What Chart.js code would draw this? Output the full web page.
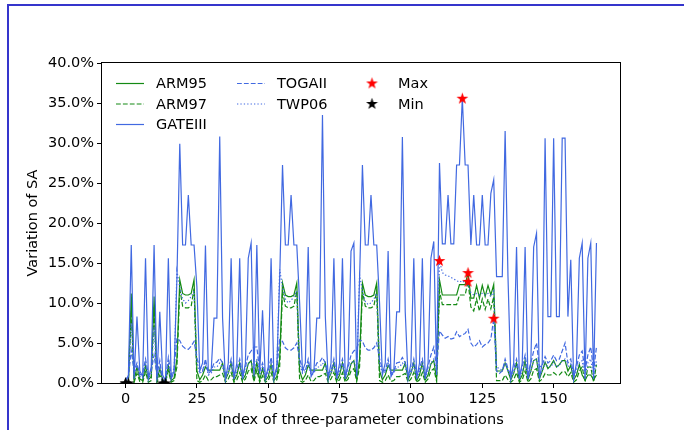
<!DOCTYPE html>
<html>
<head>
<meta charset="utf-8">
<script src="https://cdn.jsdelivr.net/npm/chart.js@4.4.1/dist/chart.umd.min.js"></script>
<style>
  html, body { margin: 0; padding: 0; background: #fff; overflow: hidden; }
  #chart { display: block; }
</style>
</head>
<body>
<canvas id="chart" width="684" height="437"></canvas>
<script>
// Variation of SA (%) for each three-parameter combination, index 0..165
const ARM95 = [
  0.2, 0, 11.2, 0.3, 2.0, 0.5, 0.3, 2.2, 0.4, 0.8,
  10.8, 0.3, 1.8, 0.4, 0.2, 2.2, 0.3, 0.6, 3.0, 12.9,
  11.2, 11.0, 11.0, 11.2, 12.9, 1.5, 0.4, 1.0, 2.0, 1.6,
  1.6, 1.6, 1.6, 1.6, 2.5, 0.4, 1.2, 2.5, 0.3, 1.0,
  2.5, 0.4, 1.0, 2.4, 2.8, 0.5, 2.6, 0.4, 1.8, 0.3,
  0.8, 2.3, 0.3, 0.8, 3.0, 12.5, 11.0, 10.8, 10.8, 11.0,
  12.5, 1.5, 0.4, 1.0, 2.2, 1.6, 1.6, 1.6, 1.6, 1.6,
  2.5, 0.4, 1.2, 2.5, 0.3, 1.0, 2.5, 0.4, 1.0, 2.4,
  2.8, 0.5, 3.0, 12.5, 11.0, 10.8, 10.8, 11.0, 12.5, 1.5,
  0.4, 1.0, 2.2, 1.6, 1.6, 1.6, 1.6, 1.6, 2.5, 0.4,
  1.2, 2.5, 0.3, 1.0, 2.5, 0.4, 1.0, 2.4, 2.8, 0.5,
  12.9, 11.0, 11.0, 11.0, 11.0, 11.0, 11.0, 12.3, 12.3, 12.3,
  13.8, 10.6, 10.6, 12.2, 10.6, 12.2, 10.8, 12.2, 11.0, 12.3,
  1.5, 1.5, 1.5, 2.5, 1.5, 0.4, 1.2, 2.5, 0.3, 1.0,
  2.8, 0.4, 1.5, 2.8, 3.0, 0.5, 1.5, 2.6, 1.8, 2.2,
  2.8, 2.0, 2.3, 2.8, 2.8, 1.5, 2.2, 0.4, 1.0, 2.3,
  1.0, 0.4, 1.0, 1.0, 0.4, 1.0
];
const ARM97 = [
  0, 0.1, 9.0, 0.1, 1.2, 0.2, 0.1, 1.4, 0.1, 0.3,
  9.5, 0.1, 1.0, 0.2, 0.1, 1.5, 0.1, 0.3, 2.0, 11.8,
  9.6, 9.4, 9.4, 9.6, 11.8, 0.3, 0.1, 0.3, 1.0, 0.3,
  0.4, 0.8, 0.8, 1.0, 1.2, 0.1, 0.5, 1.3, 0.1, 0.4,
  1.3, 0.1, 0.5, 1.5, 1.8, 0.2, 1.6, 0.1, 0.9, 0.1,
  0.3, 1.3, 0.1, 0.4, 2.0, 11.5, 9.6, 9.4, 9.4, 9.6,
  11.5, 0.3, 0.1, 0.3, 1.0, 0.2, 0.3, 0.8, 0.8, 1.0,
  1.2, 0.1, 0.5, 1.3, 0.1, 0.4, 1.3, 0.1, 0.5, 1.5,
  1.8, 0.2, 2.0, 11.5, 9.6, 9.4, 9.4, 9.6, 11.5, 0.3,
  0.1, 0.3, 1.0, 0.2, 0.3, 0.8, 0.8, 1.0, 1.2, 0.1,
  0.5, 1.3, 0.1, 0.4, 1.3, 0.1, 0.5, 1.5, 1.8, 0.2,
  11.5, 9.8, 9.8, 9.8, 9.8, 9.8, 9.8, 11.0, 11.0, 11.0,
  12.7, 9.5, 9.0, 10.5, 9.0, 10.5, 9.2, 10.5, 9.3, 10.8,
  0.3, 0.3, 0.3, 1.0, 0.4, 0.1, 0.4, 1.3, 0.1, 0.4,
  1.5, 0.1, 0.5, 1.6, 1.8, 0.2, 0.5, 1.2, 1.0, 1.0,
  1.3, 1.0, 1.0, 1.4, 1.4, 0.8, 1.3, 0.1, 0.4, 1.5,
  2.0, 0.1, 2.0, 2.0, 0.1, 2.3
];
const GATEIII = [
  0, 1.0, 17.25, 0.5, 8.3, 1.5, 0.8, 15.6, 0.5, 2.0,
  17.25, 0.5, 8.9, 1.0, 0.3, 15.6, 0.5, 1.5, 13.0, 29.9,
  17.25, 17.25, 23.5, 17.25, 17.25, 12.0, 1.5, 2.5, 17.2, 1.5,
  1.5, 8.1, 8.1, 30.8, 8.1, 0.4, 2.5, 15.6, 0.5, 2.5,
  15.6, 0.5, 2.5, 15.6, 17.5, 0.8, 17.25, 1.2, 9.1, 0.5,
  2.0, 15.6, 0.5, 2.0, 13.0, 27.25, 17.25, 17.25, 23.5, 17.25,
  17.25, 10.0, 1.5, 2.5, 17.0, 0.8, 1.5, 8.1, 8.1, 33.5,
  8.3, 0.5, 2.5, 15.6, 0.5, 2.5, 15.6, 0.5, 2.5, 16.5,
  17.5, 0.8, 13.0, 27.25, 17.25, 17.25, 23.5, 17.25, 17.25, 10.0,
  1.0, 2.5, 16.5, 0.8, 1.5, 8.9, 8.9, 30.75, 8.9, 0.5,
  2.5, 15.6, 0.5, 2.5, 15.6, 0.5, 2.5, 15.6, 17.7, 1.0,
  27.5, 17.4, 17.4, 23.5, 17.4, 17.4, 27.25, 27.25, 35.6, 27.25,
  27.25, 17.25, 23.5, 17.25, 17.25, 23.5, 17.25, 17.25, 23.7, 25.4,
  13.3, 13.3, 13.3, 31.5, 13.3, 0.5, 2.5, 17.0, 0.5, 2.5,
  17.0, 0.5, 2.5, 17.0, 18.7, 0.5, 2.5, 30.6, 8.3, 8.3,
  30.6, 8.3, 8.3, 30.6, 30.6, 8.3, 15.4, 0.5, 2.5, 15.6,
  17.5, 0.5, 15.6, 17.5, 0.5, 17.5
];
const TOGAII = [
  0.5, 0.8, 4.1, 1.5, 2.5, 1.0, 1.2, 3.0, 1.0, 1.5,
  3.5, 1.0, 2.8, 0, 0.5, 3.2, 1.0, 1.8, 5.6, 5.3,
  4.6, 4.3, 4.2, 4.6, 5.2, 3.1, 2.0, 1.5, 3.0, 1.2,
  1.5, 2.5, 2.6, 3.1, 2.5, 1.2, 1.5, 3.0, 1.0, 1.8,
  3.0, 1.0, 2.0, 3.5, 4.0, 4.5, 4.5, 1.5, 2.5, 1.0,
  1.5, 3.2, 1.0, 1.8, 5.4, 5.2, 4.4, 4.1, 4.1, 4.4,
  5.0, 3.0, 1.8, 1.5, 3.0, 1.2, 1.5, 2.5, 2.6, 3.2,
  2.5, 1.2, 1.5, 3.0, 1.0, 1.8, 3.0, 1.0, 2.0, 3.5,
  4.0, 4.3, 5.4, 5.2, 4.4, 4.1, 4.1, 4.4, 5.0, 3.0,
  1.8, 1.5, 3.0, 1.2, 1.5, 2.5, 2.6, 3.2, 2.5, 1.2,
  1.5, 3.0, 1.0, 1.8, 3.0, 1.0, 2.0, 3.5, 4.5, 2.0,
  6.5, 6.0, 5.6, 5.8, 5.5, 5.6, 6.4, 5.8, 6.0, 6.2,
  6.7, 5.0, 4.5, 4.8, 5.3, 4.5, 4.8, 5.0, 5.5, 8.1,
  1.5, 1.2, 1.5, 3.0, 1.8, 1.0, 1.8, 3.0, 1.0, 2.0,
  3.5, 1.2, 2.5, 4.0, 5.0, 2.0, 2.2, 3.3, 2.5, 2.8,
  3.5, 2.8, 3.0, 4.0, 5.0, 2.5, 3.0, 1.0, 2.0, 3.5,
  4.0, 1.5, 3.5, 4.5, 1.5, 4.5
];
const TWP06 = [
  0.3, 0.5, 7.5, 1.0, 2.2, 0.8, 0.6, 2.5, 0.5, 1.2,
  7.0, 0.5, 2.0, 0.6, 0, 2.5, 0.6, 1.2, 14.0, 12.0,
  10.5, 10.0, 10.3, 10.8, 11.5, 2.5, 1.2, 1.5, 2.5, 1.0,
  1.2, 2.0, 2.0, 2.5, 2.0, 0.8, 1.2, 2.2, 0.6, 1.4,
  2.2, 0.6, 1.5, 2.5, 2.8, 1.5, 3.0, 1.0, 2.0, 0.6,
  1.2, 2.4, 0.7, 1.5, 14.2, 12.0, 10.5, 10.0, 10.3, 10.8,
  11.5, 2.5, 1.2, 1.4, 2.5, 1.0, 1.2, 2.0, 2.0, 2.5,
  2.0, 0.8, 1.2, 2.2, 0.6, 1.4, 2.2, 0.6, 1.5, 2.5,
  2.8, 1.5, 13.5, 11.5, 10.2, 9.8, 10.0, 10.5, 11.2, 2.5,
  1.2, 1.4, 2.5, 1.0, 1.2, 2.0, 2.0, 2.5, 2.0, 0.8,
  1.2, 2.2, 0.6, 1.4, 2.2, 0.6, 1.5, 2.5, 3.0, 1.5,
  15.3, 13.8, 13.5, 13.4, 13.2, 13.0, 12.8, 12.6, 12.8, 12.5,
  12.3, 11.3, 11.0, 11.2, 11.0, 11.2, 11.0, 11.2, 10.8, 11.5,
  2.0, 1.8, 1.6, 2.5, 1.5, 0.6, 1.4, 2.2, 0.6, 1.5,
  2.4, 0.7, 1.5, 2.8, 3.0, 1.0, 1.5, 2.5, 2.0, 2.0,
  2.6, 2.0, 2.2, 2.8, 3.0, 2.0, 2.4, 0.6, 1.5, 2.5,
  2.8, 0.8, 2.5, 3.0, 0.8, 2.8
];
const xTicks = [0, 25, 50, 75, 100, 125, 150];
const yTicks = [0, 5, 10, 15, 20, 25, 30, 35, 40];

const GREEN = '#148a14';
const BLUE = '#4169e1';
const FONT = '"DejaVu Sans", sans-serif';
Chart.defaults.font.family = FONT;
Chart.defaults.font.size = 14.5;
Chart.defaults.color = '#000';

const series = [
  { label: 'ARM95', data: ARM95, color: GREEN, dash: [] },
  { label: 'ARM97', data: ARM97, color: GREEN, dash: [4.8, 2.1] },
  { label: 'GATEIII', data: GATEIII, color: BLUE, dash: [] },
  { label: 'TOGAII', data: TOGAII, color: BLUE, dash: [4.8, 2.1] },
  { label: 'TWP06', data: TWP06, color: BLUE, dash: [1.3, 2.1] },
];

// filled five-point star used as marker image
function starImage(color) {
  const c = document.createElement('canvas');
  c.width = 13; c.height = 13;
  const g = c.getContext('2d');
  g.beginPath();
  for (let k = 0; k < 10; k++) {
    const r = k % 2 ? 2.4 : 6.2;
    const a = -Math.PI / 2 + k * Math.PI / 5;
    g.lineTo(6.5 + r * Math.cos(a), 7 + r * Math.sin(a));
  }
  g.closePath();
  g.fillStyle = color;
  g.fill();
  return c;
}
const redStar = starImage('#ff0000');
const blackStar = starImage('#000000');

// index of max / first min of each series
const maxPts = series.map(s => {
  let k = 0;
  s.data.forEach((v, i) => { if (v > s.data[k]) k = i; });
  return { x: k, y: s.data[k] };
});
const minPts = series.map(s => {
  let k = 0;
  s.data.forEach((v, i) => { if (v < s.data[k]) k = i; });
  return { x: k, y: s.data[k] };
});

const datasets = series.map((s, i) => ({
  type: 'line',
  label: s.label,
  data: s.data.map((v, idx) => ({ x: idx, y: v })),
  borderColor: s.color,
  borderWidth: 1.2,
  borderDash: s.dash,
  pointRadius: 0,
  tension: 0,
  fill: false,
  order: 5 - i,
}));
datasets.push({
  type: 'scatter', label: 'Max', data: maxPts,
  pointStyle: redStar, pointRadius: 6, order: -1,
});
datasets.push({
  type: 'scatter', label: 'Min', data: minPts,
  pointStyle: blackStar, pointRadius: 6, order: -1,
});

// page frame lines (top and left edge of the figure)
const pageFrame = {
  id: 'pageFrame',
  beforeDraw(chart) {
    const ctx = chart.ctx;
    ctx.save();
    ctx.strokeStyle = '#3535cc';
    ctx.lineWidth = 2;
    ctx.beginPath();
    ctx.moveTo(8, 430);
    ctx.lineTo(8, 5);
    ctx.lineTo(684, 5);
    ctx.stroke();
    ctx.restore();
  }
};

// axes box + legend in three columns
const boxAndLegend = {
  id: 'boxAndLegend',
  afterDraw(chart) {
    const { ctx, chartArea: a } = chart;
    ctx.save();
    ctx.strokeStyle = '#000';
    ctx.lineWidth = 1;
    ctx.setLineDash([]);
    ctx.strokeRect(a.left - 0.5, a.top - 0.5, a.right - a.left + 1, a.bottom - a.top + 1);

    const cols = [116, 237, 358];
    const rows = [83.5, 104, 124.5];
    const entries = [
      ...series.map(s => ({ text: s.label, line: s })),
      { text: 'Max', img: redStar },
      { text: 'Min', img: blackStar },
    ];
    const place = [[0, 0], [0, 1], [0, 2], [1, 0], [1, 1], [2, 0], [2, 1]];
    ctx.font = '14.5px ' + FONT;
    ctx.textBaseline = 'middle';
    ctx.fillStyle = '#000';
    entries.forEach((e, i) => {
      const x = cols[place[i][0]];
      const y = rows[place[i][1]];
      if (e.line) {
        ctx.strokeStyle = e.line.color;
        ctx.lineWidth = 1.2;
        ctx.setLineDash(e.line.dash);
        ctx.beginPath();
        ctx.moveTo(x, y);
        ctx.lineTo(x + 28, y);
        ctx.stroke();
      } else {
        ctx.drawImage(e.img, x + 14 - 6.5, y - 7);
      }
      ctx.fillText(e.text, x + 40, y + 1);
    });
    ctx.restore();
  }
};

new Chart(document.getElementById('chart'), {
  data: { datasets },
  options: {
    responsive: false,
    animation: false,
    devicePixelRatio: 1,
    layout: { padding: { left: 0, top: 63, right: 64, bottom: 0 } },
    plugins: { legend: { display: false }, tooltip: { enabled: false } },
    scales: {
      x: {
        type: 'linear',
        min: -8.25,
        max: 173.25,
        afterBuildTicks: sc => { sc.ticks = xTicks.map(v => ({ value: v })); },
        afterFit: sc => { sc.height = 54; },
        ticks: { padding: 3, color: '#000', maxRotation: 0 },
        grid: { drawOnChartArea: false, drawTicks: true, tickLength: 5, color: '#000' },
        border: { display: false },
        title: { display: true, text: 'Index of three-parameter combinations', padding: { top: 0, bottom: 8 } },
      },
      y: {
        type: 'linear',
        min: 0,
        max: 40,
        afterBuildTicks: sc => { sc.ticks = yTicks.map(v => ({ value: v })); },
        afterFit: sc => { sc.width = 102; },
        ticks: { padding: 3, color: '#000', callback: v => v.toFixed(1) + '%' },
        grid: { drawOnChartArea: false, drawTicks: true, tickLength: 5, color: '#000' },
        border: { display: false },
        title: { display: true, text: 'Variation of SA', padding: { top: 25, bottom: 0 } },
      },
    },
  },
  plugins: [pageFrame, boxAndLegend],
});
</script>
</body>
</html>
